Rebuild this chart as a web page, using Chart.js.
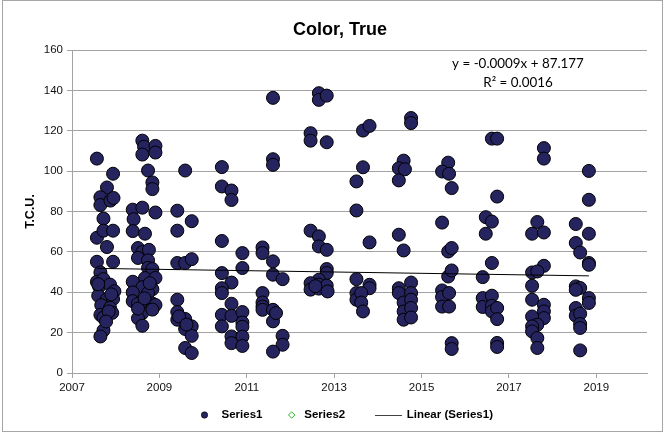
<!DOCTYPE html>
<html>
<head>
<meta charset="utf-8">
<script src="https://cdn.jsdelivr.net/npm/chart.js@4/dist/chart.umd.min.js"></script>
<style>
  html, body { margin: 0; padding: 0; background: #fff; }
  #wrap { width: 666px; height: 436px; position: relative; }
</style>
</head>
<body>
<div id="wrap"><canvas id="chart" width="666" height="436"></canvas></div>
<script>
// True colour samples (T.C.U.) by sampling season, as [decimal year, value]
const season2007 = [[2007.57,106.2],[2007.94,98.7],[2007.80,91.9],[2007.65,87.1],[2007.65,83.2],[2007.88,85.4],[2007.95,86.7],[2007.72,76.5],[2007.57,67.0],[2007.72,70.5],[2007.94,70.5],[2007.80,62.4],[2007.57,55.1],[2007.94,55.1],[2007.65,49.8],[2007.57,45.2],[2007.62,42.8],[2007.72,46.5],[2007.87,43.8],[2007.97,40.5],[2007.60,38.3],[2007.80,36.6],[2007.94,36.7],[2007.67,33.6],[2007.87,32.3],[2007.65,28.8],[2007.72,27.4],[2007.92,29.8],[2007.72,21.1],[2007.65,18.1],[2007.90,39.0],[2007.60,44.0],[2007.84,30.5],[2007.78,25.5]];
const season2008 = [[2008.61,115.1],[2008.65,112.1],[2008.61,108.2],[2008.91,112.5],[2008.91,109.2],[2008.74,100.3],[2008.84,94.4],[2008.84,91.1],[2008.39,80.9],[2008.61,81.9],[2008.41,76.2],[2008.39,70.3],[2008.67,69.0],[2008.91,79.5],[2008.51,61.9],[2008.61,59.9],[2008.76,61.0],[2008.51,57.0],[2008.74,55.8],[2008.74,52.1],[2008.84,51.5],[2008.67,47.0],[2008.91,47.1],[2008.39,45.2],[2008.61,42.5],[2008.84,41.5],[2008.39,39.9],[2008.74,39.6],[2008.39,35.6],[2008.51,34.3],[2008.69,34.1],[2008.84,34.4],[2008.91,33.7],[2008.61,29.7],[2008.51,27.1],[2008.84,31.4],[2008.61,23.4],[2008.51,31.9],[2008.66,37.0],[2008.78,44.5]];
const season2009 = [[2009.59,100.3],[2009.41,80.4],[2009.74,75.2],[2009.41,70.5],[2009.41,54.5],[2009.59,54.5],[2009.74,56.4],[2009.41,36.3],[2009.41,30.2],[2009.41,26.4],[2009.59,26.8],[2009.59,21.8],[2009.74,23.1],[2009.74,18.4],[2009.59,12.4],[2009.74,9.9],[2009.45,28.0],[2009.62,24.0]];
const season2010 = [[2010.43,102.0],[2010.43,92.4],[2010.65,90.4],[2010.65,85.7],[2010.43,65.4],[2010.90,59.4],[2010.90,52.0],[2010.43,49.5],[2010.65,44.8],[2010.43,42.0],[2010.43,39.6],[2010.65,34.3],[2010.43,28.8],[2010.65,28.3],[2010.90,30.2],[2010.43,23.1],[2010.90,25.0],[2010.90,22.9],[2010.65,18.1],[2010.65,14.8],[2010.90,18.0],[2010.90,13.4]];
const season2011 = [[2011.36,62.2],[2011.36,59.4],[2011.60,55.3],[2011.60,48.7],[2011.82,46.5],[2011.36,39.6],[2011.36,34.9],[2011.36,32.9],[2011.36,31.3],[2011.60,31.3],[2011.60,25.6],[2011.67,29.7],[2011.60,136.3],[2011.60,105.9],[2011.60,103.1],[2011.82,18.4],[2011.82,14.0],[2011.60,10.6]];
const season2012 = [[2012.65,138.6],[2012.65,135.3],[2012.83,137.4],[2012.46,118.8],[2012.46,115.1],[2012.83,114.3],[2012.46,70.5],[2012.65,67.7],[2012.65,62.7],[2012.83,61.0],[2012.83,51.5],[2012.83,49.5],[2012.65,46.2],[2012.46,44.5],[2012.46,41.3],[2012.65,43.8],[2012.65,41.8],[2012.83,43.3],[2012.85,40.4],[2012.57,43.0]];
const season2013 = [[2013.66,120.1],[2013.81,122.4],[2013.66,101.9],[2013.51,94.9],[2013.51,80.5],[2013.81,64.7],[2013.51,46.5],[2013.81,43.7],[2013.81,42.0],[2013.51,39.6],[2013.51,36.3],[2013.62,39.6],[2013.62,34.9],[2013.66,30.5]];
const season2014 = [[2014.76,126.3],[2014.76,123.8],[2014.59,105.2],[2014.48,101.4],[2014.62,100.9],[2014.48,95.4],[2014.48,68.5],[2014.59,60.7],[2014.76,44.8],[2014.48,42.0],[2014.48,39.6],[2014.59,34.9],[2014.59,30.5],[2014.59,26.4],[2014.76,39.6],[2014.76,36.3],[2014.76,32.2],[2014.76,27.5]];
const season2015 = [[2015.47,74.5],[2015.61,104.2],[2015.47,99.8],[2015.63,98.7],[2015.69,91.6],[2015.61,60.2],[2015.69,61.9],[2015.61,47.8],[2015.69,50.8],[2015.47,40.9],[2015.47,37.6],[2015.47,32.9],[2015.63,39.6],[2015.63,32.9],[2015.69,14.8],[2015.69,11.9]];
const season2016 = [[2016.61,116.1],[2016.73,116.1],[2016.73,87.4],[2016.47,77.2],[2016.61,75.0],[2016.47,69.0],[2016.61,54.5],[2016.40,47.5],[2016.40,37.1],[2016.40,32.7],[2016.61,38.3],[2016.61,33.3],[2016.61,30.5],[2016.73,32.2],[2016.73,26.7],[2016.73,14.9],[2016.73,12.9]];
const season2017 = [[2017.80,111.4],[2017.80,106.2],[2017.65,74.8],[2017.53,69.0],[2017.80,69.6],[2017.80,53.1],[2017.53,49.8],[2017.65,50.3],[2017.53,43.2],[2017.53,36.3],[2017.80,33.8],[2017.80,30.5],[2017.80,27.2],[2017.53,28.0],[2017.65,23.9],[2017.53,23.1],[2017.53,20.6],[2017.65,17.3],[2017.65,12.4]];
const season2018 = [[2018.83,100.1],[2018.83,85.8],[2018.53,73.8],[2018.83,69.0],[2018.53,64.4],[2018.63,59.7],[2018.83,54.5],[2018.83,53.6],[2018.53,42.9],[2018.63,42.1],[2018.53,41.2],[2018.83,37.1],[2018.83,34.7],[2018.53,32.2],[2018.53,28.4],[2018.63,29.4],[2018.63,24.3],[2018.63,22.3],[2018.63,11.2]];

// Axis ticks
const yearTicks = [2007, 2009, 2011, 2013, 2015, 2017, 2019];
const tcuTicks = [0, 20, 40, 60, 80, 100, 120, 140, 160];

// Linear trend of Series1 (x is the spreadsheet date serial)
const TREND_SLOPE = -0.0009;
const TREND_INTERCEPT = 87.177;
const TREND_R2 = 0.0016;
const SERIAL_2007 = 39083; // 1 Jan 2007

const series1 = [season2007, season2008, season2009, season2010, season2011, season2012,
  season2013, season2014, season2015, season2016, season2017, season2018]
  .flat().map(([x, y]) => ({ x, y }));
const series2 = [];

const toSerial = yr => SERIAL_2007 + (yr - 2007) * 365.25;
const trendAt = yr => TREND_SLOPE * toSerial(yr) + TREND_INTERCEPT;
const xs = series1.map(p => p.x);
const xMin = Math.min(...xs), xMax = Math.max(...xs);
const trend = [{ x: xMin, y: trendAt(xMin) }, { x: xMax, y: trendAt(xMax) }];

const NAVY = '#26245f';
const GRID = '#a3a3a3';
const SANS = '"Liberation Sans", Arial, sans-serif';

function fmt(n) {
  const s = n.toFixed(4);
  return s;
}

const decorations = {
  id: 'decorations',
  beforeDraw(chart) {
    const ctx = chart.ctx;
    ctx.save();
    ctx.fillStyle = '#fff';
    ctx.fillRect(0, 0, chart.width, chart.height);
    ctx.restore();
  },
  afterDraw(chart) {
    const ctx = chart.ctx;
    ctx.save();
    // outer frame
    ctx.strokeStyle = '#a6a6a6';
    ctx.lineWidth = 1;
    ctx.strokeRect(2.5, 0.5, 660, 431);

    // title
    ctx.fillStyle = '#000';
    ctx.font = 'bold 18px ' + SANS;
    ctx.textAlign = 'center';
    ctx.textBaseline = 'alphabetic';
    ctx.fillText('Color, True', 340, 35);

    // trendline equation
    const eq = 'y = ' + TREND_SLOPE + 'x + ' + TREND_INTERCEPT;
    const r2 = 'R\u00B2 = ' + TREND_R2;
    ctx.font = '13.4px Lato, "Open Sans", sans-serif';
    ctx.textBaseline = 'middle';
    ctx.fillText(eq, 518, 64);
    ctx.fillText(r2, 518, 83);

    // legend
    const ly = 415;
    ctx.font = 'bold 11.5px ' + SANS;
    ctx.textAlign = 'left';
    ctx.fillStyle = NAVY;
    ctx.strokeStyle = '#000';
    ctx.beginPath();
    ctx.arc(204.5, ly, 3.2, 0, Math.PI * 2);
    ctx.fill();
    ctx.lineWidth = 0.6;
    ctx.stroke();
    ctx.fillStyle = '#000';
    ctx.fillText('Series1', 221.5, ly);

    ctx.strokeStyle = '#2db82d';
    ctx.lineWidth = 1;
    ctx.beginPath();
    ctx.moveTo(291.7, ly - 3.2);
    ctx.lineTo(294.9, ly);
    ctx.lineTo(291.7, ly + 3.2);
    ctx.lineTo(288.5, ly);
    ctx.closePath();
    ctx.stroke();
    ctx.fillText('Series2', 304.3, ly);

    ctx.strokeStyle = '#444';
    ctx.beginPath();
    ctx.moveTo(375, ly + 0.5);
    ctx.lineTo(402, ly + 0.5);
    ctx.stroke();
    ctx.fillText('Linear (Series1)', 406.7, ly);
    ctx.restore();
  }
};

new Chart(document.getElementById('chart'), {
  type: 'scatter',
  data: {
    datasets: [
      {
        label: 'Series1',
        data: series1,
        backgroundColor: NAVY,
        borderColor: '#000',
        borderWidth: 1,
        pointRadius: 6.5,
        pointHoverRadius: 6.5,
        order: 2
      },
      {
        label: 'Series2',
        data: series2,
        pointStyle: 'rectRot',
        backgroundColor: '#fff',
        borderColor: '#2db82d',
        pointRadius: 4,
        order: 1
      },
      {
        label: 'Linear (Series1)',
        type: 'line',
        data: trend,
        borderColor: '#000',
        borderWidth: 1,
        pointRadius: 0,
        fill: false,
        order: 0
      }
    ]
  },
  options: {
    responsive: false,
    animation: false,
    events: [],
    layout: { padding: { left: 0, right: 19, top: 50, bottom: 0 } },
    plugins: {
      legend: { display: false },
      title: { display: false },
      tooltip: { enabled: false }
    },
    scales: {
      x: {
        type: 'linear',
        min: 2007,
        max: 2020.16,
        afterBuildTicks: s => { s.ticks = yearTicks.map(v => ({ value: v })); },
        afterFit: s => { s.height = 63; },
        ticks: {
          callback: v => String(v),
          color: '#111',
          font: { family: SANS, size: 11.5 },
          padding: 3,
          maxRotation: 0,
          autoSkip: false
        },
        grid: { drawOnChartArea: false, drawTicks: true, tickLength: 5, color: GRID },
        border: { color: GRID }
      },
      y: {
        min: 0,
        max: 160,
        afterBuildTicks: s => { s.ticks = tcuTicks.map(v => ({ value: v })); },
        afterFit: s => { s.width = 72; },
        ticks: {
          color: '#111',
          font: { family: SANS, size: 11.5 },
          padding: 4
        },
        grid: { color: GRID, tickLength: 5 },
        border: { color: GRID },
        title: {
          display: true,
          text: 'T.C.U.',
          color: '#000',
          font: { family: SANS, size: 12.5, weight: 'bold' },
          padding: { top: 23, bottom: 0 }
        }
      }
    }
  },
  plugins: [decorations]
});
</script>
</body>
</html>
